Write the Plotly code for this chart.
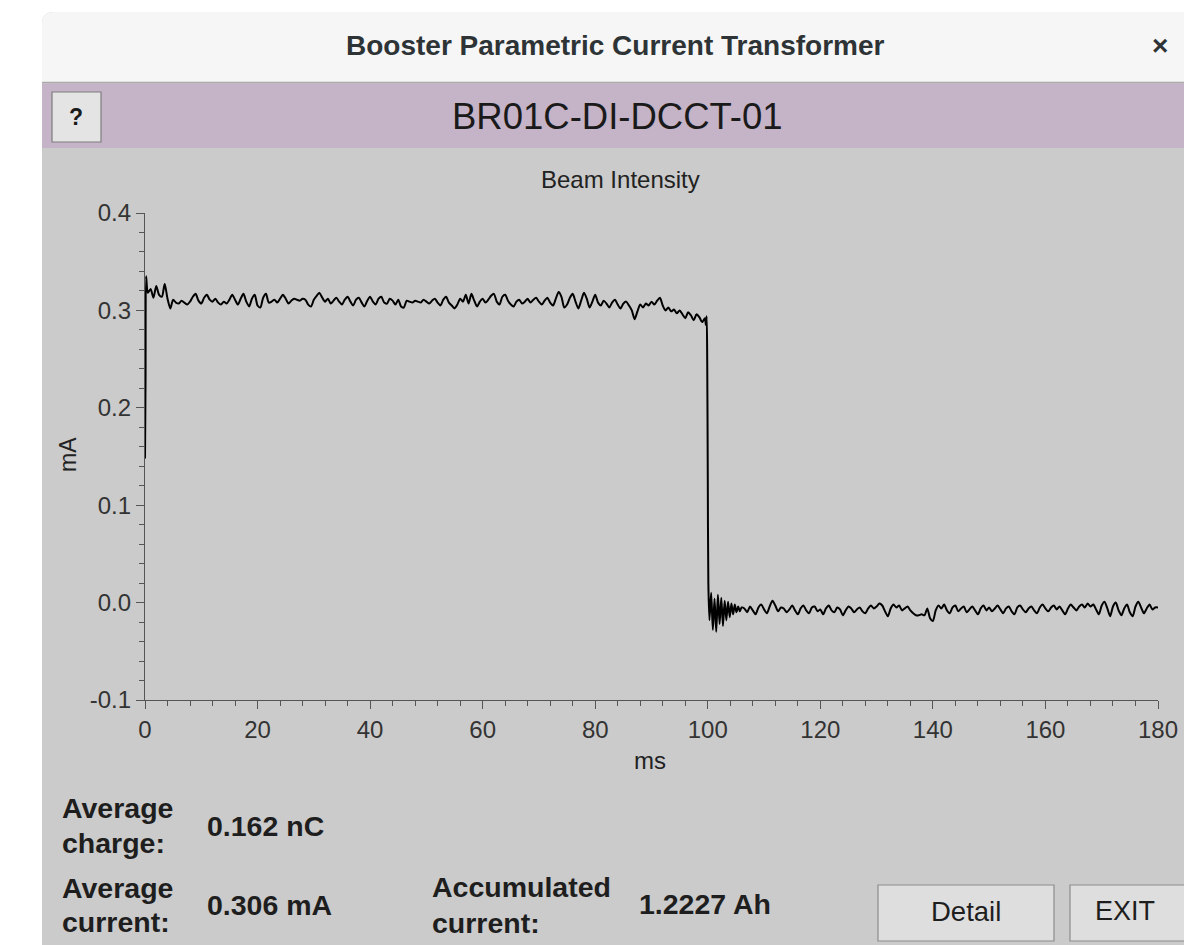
import numpy as np
import plotly.graph_objects as go

# ---------------- data ----------------
start_t = [0.0, 0.1, 0.2]
start_mA = [0.148, 0.232, 0.335]

plateau_t0, plateau_dt = 0.5, 0.5
plateau_mA = [
    0.318, 0.322, 0.313, 0.325, 0.316, 0.314, 0.327, 0.312, 0.302, 0.311,
    0.308, 0.307, 0.310, 0.308, 0.306, 0.309, 0.314, 0.317, 0.310, 0.307,
    0.313, 0.316, 0.311, 0.309, 0.312, 0.308, 0.306, 0.309, 0.307, 0.311,
    0.316, 0.311, 0.306, 0.312, 0.317, 0.309, 0.304, 0.312, 0.316, 0.305,
    0.303, 0.313, 0.317, 0.308, 0.309, 0.311, 0.308, 0.312, 0.316, 0.312,
    0.307, 0.310, 0.312, 0.311, 0.310, 0.312, 0.311, 0.306, 0.304, 0.311,
    0.315, 0.318, 0.313, 0.309, 0.312, 0.307, 0.310, 0.313, 0.309, 0.306,
    0.311, 0.314, 0.309, 0.305, 0.311, 0.313, 0.308, 0.304, 0.310, 0.314,
    0.309, 0.306, 0.312, 0.314, 0.308, 0.307, 0.312, 0.310, 0.306, 0.311,
    0.304, 0.303, 0.310, 0.309, 0.308, 0.310, 0.309, 0.308, 0.311, 0.309,
    0.307, 0.310, 0.312, 0.308, 0.305, 0.311, 0.314, 0.308, 0.305, 0.302,
    0.306, 0.312, 0.309, 0.316, 0.307, 0.317, 0.310, 0.304, 0.309, 0.312,
    0.308, 0.311, 0.315, 0.317, 0.309, 0.306, 0.314, 0.316, 0.310, 0.306,
    0.304, 0.309, 0.311, 0.307, 0.309, 0.312, 0.308, 0.311, 0.313, 0.309,
    0.306, 0.310, 0.313, 0.308, 0.305, 0.312, 0.319, 0.314, 0.303, 0.306,
    0.313, 0.317, 0.309, 0.302, 0.310, 0.318, 0.312, 0.303, 0.309, 0.316,
    0.308, 0.305, 0.310, 0.307, 0.303, 0.308, 0.311, 0.306, 0.302, 0.307,
    0.309, 0.305, 0.300, 0.291, 0.299, 0.306, 0.303, 0.307, 0.305, 0.309,
    0.306, 0.310, 0.313, 0.305, 0.300, 0.303, 0.299, 0.301, 0.297, 0.300,
    0.296, 0.292, 0.298, 0.295, 0.290, 0.296, 0.293, 0.288, 0.292,
]

drop_t = [99.65, 99.8, 99.9, 100.0, 100.1]
drop_mA = [0.285, 0.294, 0.248, 0.130, 0.020]

ring_t0, ring_dt = 100.3, 0.3
ring_mA = [
    -0.018, 0.010, -0.028, 0.004, -0.030, 0.008, -0.022, 0.005, -0.024, 0.002,
    -0.018, 0.001, -0.015, -0.001, -0.012, -0.002, -0.010, -0.004, -0.009, -0.005,
]

tail_t0, tail_dt = 106.5, 0.5
tail_mA = [
    -0.006, -0.010, -0.004, -0.008, -0.012, -0.005, -0.002, -0.007, -0.011, -0.004,
    0.002, -0.003, -0.009, -0.005, -0.006, -0.010, -0.007, -0.003, -0.008, -0.012,
    -0.006, -0.003, -0.008, -0.011, -0.005, -0.004, -0.009, -0.007, -0.012, -0.006,
    -0.003, -0.008, -0.010, -0.005, -0.007, -0.013, -0.008, -0.004, -0.006, -0.010,
    -0.007, -0.005, -0.009, -0.011, -0.006, -0.003, -0.006, -0.004, -0.001, -0.003,
    -0.009, -0.014, -0.006, -0.002, -0.005, -0.003, -0.008, -0.006, -0.004, -0.008,
    -0.011, -0.013, -0.013, -0.012, -0.013, -0.006, -0.016, -0.019, -0.008, -0.003,
    -0.006, -0.002, -0.008, -0.011, -0.005, -0.003, -0.009, -0.006, -0.004, -0.010,
    -0.007, -0.004, -0.008, -0.012, -0.006, -0.003, -0.008, -0.005, -0.009, -0.006,
    -0.003, -0.007, -0.011, -0.006, -0.004, -0.009, -0.012, -0.005, -0.003, -0.007,
    -0.010, -0.006, -0.004, -0.008, -0.011, -0.005, -0.002, -0.006, -0.009, -0.005,
    -0.003, -0.007, -0.004, -0.008, -0.012, -0.006, -0.002, -0.005, -0.008, -0.004,
    -0.002, -0.005, -0.001, -0.004, -0.002, -0.007, -0.012, -0.003, 0.001, -0.006,
    -0.014, -0.004, 0.000, -0.008, -0.013, -0.006, -0.002, -0.010, -0.014, -0.004,
    0.001, -0.005, -0.011, -0.006, -0.002, -0.007, -0.005, -0.005,
]

y_tickvals = [-0.1, 0.0, 0.1, 0.2, 0.3, 0.4]
y_ticktext = ["-0.1", "0.0", "0.1", "0.2", "0.3", "0.4"]

window_title = "Booster Parametric Current Transformer"
device_name = "BR01C-DI-DCCT-01"
chart_title = "Beam Intensity"
avg_charge = "0.162 nC"
avg_current = "0.306 mA"
acc_current = "1.2227 Ah"

# ---------------- assemble series ----------------
plateau_t = plateau_t0 + plateau_dt * np.arange(len(plateau_mA))
ring_t = ring_t0 + ring_dt * np.arange(len(ring_mA))
tail_t = tail_t0 + tail_dt * np.arange(len(tail_mA))
t_all = np.concatenate([start_t, plateau_t, drop_t, ring_t, tail_t])
v_all = np.concatenate([start_mA, plateau_mA, drop_mA, ring_mA, tail_mA])

# ---------------- layout geometry (screen pixels) ----------------
SW, SH = 1184, 945                # screen size
L, R, T, B = 145, 1158, 213, 700  # plot area in screen pixels


def px(X):
    return (X - L) / (R - L)


def py(Y):
    return (B - Y) / (B - T)


FONT = "Liberation Sans, Arial, sans-serif"

fig = go.Figure()
fig.add_trace(go.Scatter(x=t_all, y=v_all, mode="lines",
                         line=dict(color="#000000", width=2, shape="spline", smoothing=0.7),
                         hoverinfo="skip", showlegend=False))

shapes = []
shapes.append(dict(type="path", xref="paper", yref="paper", layer="below",
                   path=f"M {px(42)},{py(960)} L {px(42)},{py(24)} Q {px(42)},{py(12)} {px(54)},{py(12)} "
                        f"L {px(1200)},{py(12)} L {px(1200)},{py(960)} Z",
                   fillcolor="#cbcbcb", line=dict(width=0)))
shapes.append(dict(type="path", xref="paper", yref="paper", layer="below",
                   path=f"M {px(42)},{py(82)} L {px(42)},{py(24)} Q {px(42)},{py(12)} {px(54)},{py(12)} "
                        f"L {px(1200)},{py(12)} L {px(1200)},{py(82)} Z",
                   fillcolor="#f6f6f6", line=dict(width=0)))
shapes.append(dict(type="line", xref="paper", yref="paper", layer="below",
                   x0=px(42), x1=px(1200), y0=py(82.5), y1=py(82.5),
                   line=dict(color="#a9a9a9", width=1.5)))
shapes.append(dict(type="rect", xref="paper", yref="paper", layer="below",
                   x0=px(42), x1=px(1200), y0=py(148), y1=py(83.5),
                   fillcolor="#c5b3c8", line=dict(width=0)))
shapes.append(dict(type="rect", xref="paper", yref="paper", layer="below",
                   x0=px(52), x1=px(101), y0=py(142), y1=py(92),
                   fillcolor="#e4e4e4", line=dict(color="#7d7d7d", width=1.2)))
for x0, x1 in [(878, 1054), (1070, 1200)]:
    shapes.append(dict(type="rect", xref="paper", yref="paper", layer="below",
                       x0=px(x0), x1=px(x1), y0=py(941), y1=py(885),
                       fillcolor="#dedede", line=dict(color="#8c8c8c", width=1.2)))

annotations = []


def ann(text, X, Y, size, color="#1e1e1e", xanchor="center", angle=0):
    annotations.append(dict(text=text, x=px(X), y=py(Y), xref="paper", yref="paper",
                            xanchor=xanchor, yanchor="middle", showarrow=False,
                            textangle=angle, font=dict(family=FONT, size=size, color=color)))


ann(f"<b>{window_title}</b>", 615, 46, 28, "#2e3436")
ann("<b>×</b>", 1160, 46, 28, "#2e3436")
ann(device_name, 617, 117, 36.5, "#1a1a1a")
ann("<b>?</b>", 76, 117, 23, "#1a1a1a")
ann(chart_title, 620, 180, 24, "#222222")
ann("mA", 68, 455, 23, "#222222", angle=-90)
ann("ms", 650, 760, 24, "#222222")

BS = 28.5
ann("<b>Average</b>", 60, 808, BS, xanchor="left")
ann("<b>charge:</b>", 60, 843, BS, xanchor="left")
ann(f"<b>{avg_charge}</b>", 205, 826, BS, xanchor="left")
ann("<b>Average</b>", 60, 888, BS, xanchor="left")
ann("<b>current:</b>", 60, 922, BS, xanchor="left")
ann(f"<b>{avg_current}</b>", 205, 905, BS, xanchor="left")
ann("<b>Accumulated</b>", 430, 887, BS, xanchor="left")
ann("<b>current:</b>", 430, 923, BS, xanchor="left")
ann(f"<b>{acc_current}</b>", 637, 904, BS, xanchor="left")
ann("Detail", 966, 911, 27.5)
ann("EXIT", 1125, 911, 27)

axis_common = dict(showline=True, linecolor="#555555", linewidth=1.3,
                   ticks="outside", ticklen=8, tickwidth=1.3, tickcolor="#555555",
                   showgrid=False, zeroline=False, mirror=False, automargin=False,
                   tickfont=dict(family=FONT, size=24, color="#333333"))

fig.update_layout(
    width=SW, height=SH,
    margin=dict(l=L, r=SW - R, t=T, b=SH - B, pad=0, autoexpand=False),
    paper_bgcolor="#ffffff",
    plot_bgcolor="rgba(0,0,0,0)",
    shapes=shapes,
    annotations=annotations,
    showlegend=False,
    xaxis=dict(range=[0, 180], tick0=0, dtick=20, fixedrange=True,
               minor=dict(dtick=4, ticklen=5, tickwidth=1.1, tickcolor="#555555", ticks="outside"),
               **axis_common),
    yaxis=dict(range=[-0.1, 0.4], tickvals=y_tickvals, ticktext=y_ticktext, fixedrange=True,
               minor=dict(dtick=0.02, tick0=0, ticklen=5, tickwidth=1.1, tickcolor="#555555", ticks="outside"),
               **axis_common),
)

fig.write_html(
    "out.html",
    config={"displayModeBar": False},
    post_script=("document.documentElement.style.margin='0';"
                 "document.body.style.margin='0';"
                 "document.documentElement.style.overflow='hidden';"
                 "document.body.style.overflow='hidden';"),
)
